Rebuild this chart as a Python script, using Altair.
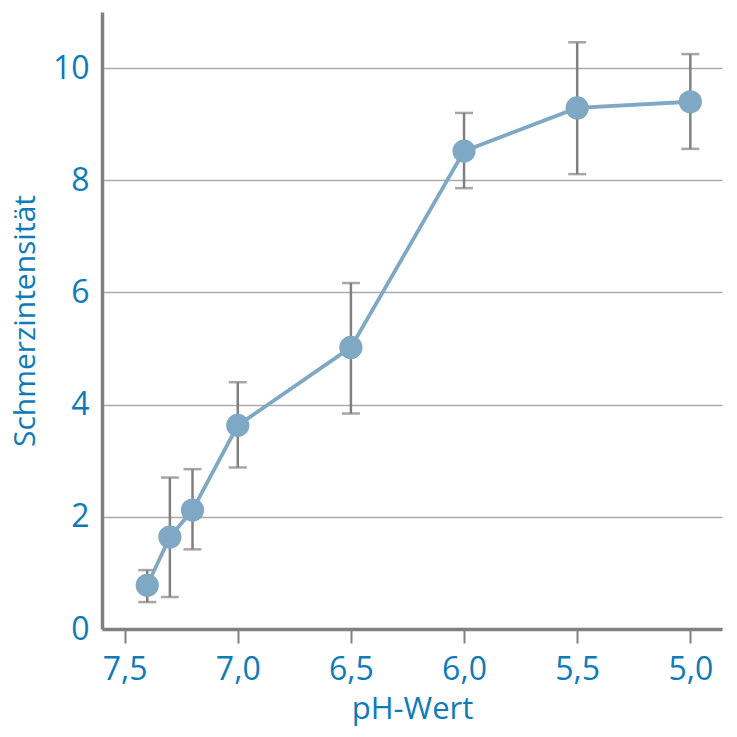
import altair as alt
import pandas as pd

ph = [7.4, 7.3, 7.2, 7.0, 6.5, 6.0, 5.5, 5.0]
pain = [0.78, 1.64, 2.12, 3.63, 5.02, 8.52, 9.29, 9.40]
err_low = [0.48, 0.57, 1.42, 2.88, 3.84, 7.86, 8.11, 8.56]
err_high = [1.05, 2.70, 2.85, 4.40, 6.17, 9.20, 10.46, 10.25]
x_ticks = [7.5, 7.0, 6.5, 6.0, 5.5, 5.0]
y_ticks = [0, 2, 4, 6, 8, 10]

df = pd.DataFrame({"ph": ph, "pain": pain, "lo": err_low, "hi": err_high})

BLUE = "#0e7bb8"
FONT = "Open Sans"

xscale = alt.Scale(domain=[4.86, 7.6], reverse=True, nice=False, zero=False)
yscale = alt.Scale(domain=[0, 11], nice=False, zero=True)

xaxis = alt.Axis(
    title="pH-Wert", values=x_ticks, grid=False,
    labelExpr="replace(format(datum.value, '.1f'), '.', ',')",
    domainColor="#808080", domainWidth=3.5, tickColor="#808080", tickWidth=2,
    tickSize=14, labelPadding=11, labelColor=BLUE, labelFontSize=32,
    labelFont=FONT, titleColor=BLUE, titleFontSize=31, titleFont=FONT,
    titleFontWeight="normal", titlePadding=9,
)
yaxis = alt.Axis(
    title="Schmerzintensität", values=y_ticks, format="d", grid=True,
    gridColor="#aaaaaa", gridWidth=1.5, ticks=False,
    domainColor="#808080", domainWidth=3.5, labelPadding=13,
    labelColor=BLUE, labelFontSize=32, labelFont=FONT,
    titleColor=BLUE, titleFontSize=30, titleFont=FONT,
    titleFontWeight="normal", titlePadding=12,
)

base = alt.Chart(df)

rules = base.mark_rule(color="#808080", strokeWidth=2.5).encode(
    x=alt.X("ph:Q", scale=xscale, axis=xaxis),
    y=alt.Y("lo:Q", scale=yscale, axis=yaxis),
    y2="hi:Q",
)
cap_lo = base.mark_tick(color="#808080", orient="horizontal", size=18, thickness=2.5).encode(
    x=alt.X("ph:Q", scale=xscale), y=alt.Y("lo:Q", scale=yscale)
)
cap_hi = base.mark_tick(color="#808080", orient="horizontal", size=18, thickness=2.5).encode(
    x=alt.X("ph:Q", scale=xscale), y=alt.Y("hi:Q", scale=yscale)
)
line = base.mark_line(color="#7fa8c4", strokeWidth=3.8).encode(
    x=alt.X("ph:Q", scale=xscale), y=alt.Y("pain:Q", scale=yscale)
)
points = base.mark_circle(color="#7fa8c4", opacity=1, size=540).encode(
    x=alt.X("ph:Q", scale=xscale), y=alt.Y("pain:Q", scale=yscale)
)

chart = alt.layer(rules, cap_lo, cap_hi, line, points).properties(
    width=620, height=617,
    autosize=alt.AutoSizeParams(type="none"),
    padding={"left": 102, "top": 12, "right": 15, "bottom": 108},
).configure_view(stroke=None)

chart.save("out.html", embed_options={"renderer": "svg", "actions": False})
